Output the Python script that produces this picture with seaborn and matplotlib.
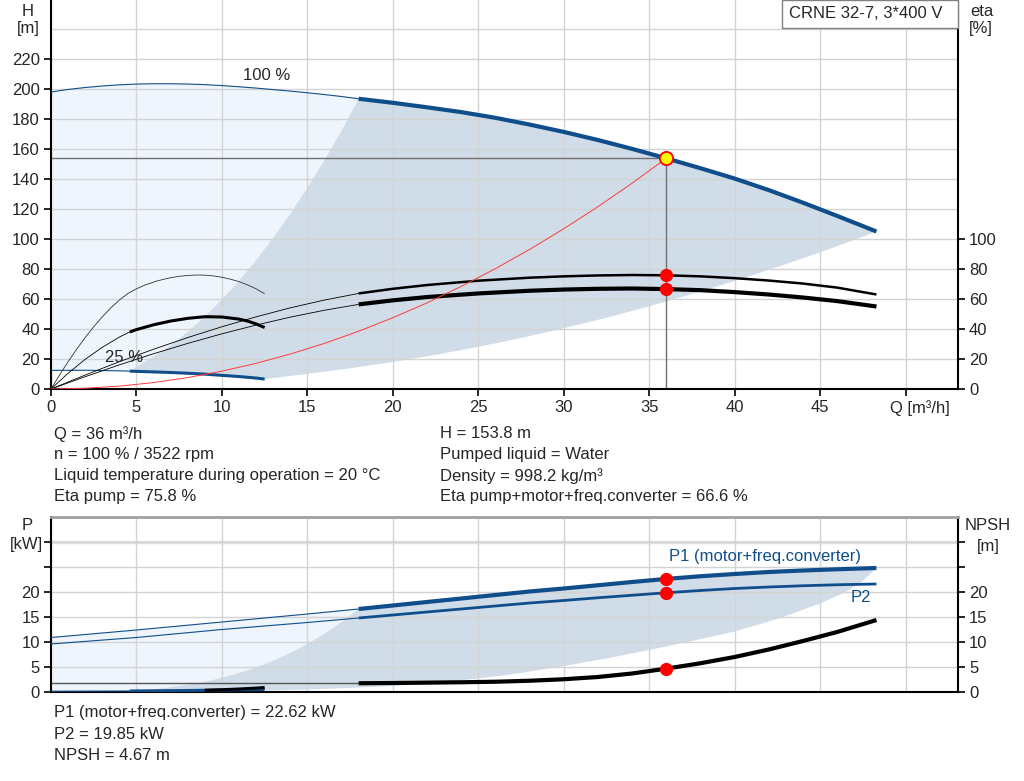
import numpy as np
import matplotlib
matplotlib.use("Agg")
import matplotlib.pyplot as plt
import seaborn as sns
from matplotlib.patches import Rectangle
from matplotlib.ticker import FixedLocator

# ------------------- DATOS ------------------- #

# Curva H a 100 % (parte fina y parte gruesa)
h100_thin_q = [0, 1, 2, 3, 4, 5, 6, 7, 8, 9, 10, 11, 12, 13, 14, 15, 16, 17, 18]
h100_thin_h = [198, 199.7, 201, 202, 202.8, 203.3, 203.5, 203.5, 203.3, 202.9,
               202.3, 201.5, 200.6, 199.6, 198.6, 197.5, 196.3, 195, 193.5]
h100_q = [18, 20, 22, 24, 26, 28, 30, 32, 34, 36, 38, 40, 42, 44, 46, 48.3]
h100_h = [193.5, 190.8, 187.8, 184.6, 180.8, 176.3, 171.4, 166, 160.1, 153.8,
          147.2, 140.3, 132.6, 124.2, 115.4, 105]

# Curva H a 25 %
h25_thin_q = [0, 2, 4, 4.6]
h25_thin_h = [12.4, 12.5, 12.1, 11.9]
h25_q = [4.6, 6, 7, 8, 9, 10, 11, 12, 12.5]
h25_h = [11.9, 11.4, 11, 10.5, 9.9, 9.1, 8.3, 7.3, 6.6]

# Límites de la zona de trabajo (H)
zone_left_q = [4.6, 5, 6, 7, 8, 9, 10, 11, 12, 13, 14, 15, 16, 17, 18]
zone_left_h = [11.9, 14.9, 21.5, 29.2, 38.1, 48.3, 59.6, 72.1, 85.8, 100.7,
               116.8, 134.1, 152.6, 172.2, 193.5]
zone_low_q = [12.5, 15, 17.5, 20, 22.5, 25, 27.5, 30, 32.5, 35, 37.5, 40, 42.5,
              45, 47, 48.3]
zone_low_h = [6.6, 10.1, 13.8, 18, 22.8, 28.1, 34, 40.5, 47.5, 55.1, 63.3, 72,
              81.3, 91.1, 99.4, 105]

# Eficiencias
eta_p_thin_q = [0, 2, 4, 6, 8, 10, 12, 14, 16, 18]
eta_p_thin = [0, 9.3, 18.2, 26.5, 34.3, 41.5, 48.1, 54.1, 59.3, 63.7]
eta_p_q = [18, 20, 22, 25, 28, 30, 32, 34, 36, 38, 40, 42, 44, 46, 48.3]
eta_p = [63.7, 66.8, 69.3, 72.2, 74.2, 75.1, 75.7, 76, 75.8, 75.1, 73.9, 72.3,
         70.3, 67.6, 63]

eta_t_thin_q = [0, 2, 4, 6, 8, 10, 12, 14, 16, 18]
eta_t_thin = [0, 8.2, 16.1, 23.5, 30.4, 36.8, 42.6, 47.9, 52.5, 56.4]
eta_t_q = [18, 20, 22, 25, 28, 30, 32, 34, 36, 38, 40, 42, 44, 46, 48.3]
eta_t = [56.4, 59.1, 61.3, 63.7, 65.5, 66.3, 66.8, 67, 66.6, 65.9, 64.6, 63,
         61, 58.6, 55]

eta_p25_q = [0, 0.5, 1, 1.5, 2, 2.5, 3, 3.5, 4, 4.5, 5, 5.5, 6.25, 7, 7.5, 8,
             8.5, 9, 9.5, 10, 10.5, 11, 11.5, 12, 12.5]
eta_p25 = [0, 9.3, 18.2, 26.5, 34.3, 41.5, 48.1, 54.1, 59.3, 63.7, 66.8, 69.3,
           72.2, 74.2, 75.1, 75.7, 76, 75.9, 75.4, 74.5, 73.2, 71.6, 69.4, 66.8,
           63.5]
eta_t25_thin_q = [0, 1, 2, 3, 4, 4.6]
eta_t25_thin = [0, 10.5, 19.8, 27.8, 34.6, 38]
eta_t25_q = [4.6, 5, 6, 7, 8, 9, 10, 11, 11.5, 12, 12.5]
eta_t25 = [38, 39.6, 42.8, 45.3, 47.1, 48.2, 48, 46.6, 45.3, 43.4, 41]

# Curva del sistema
sys_q = [0, 2, 4, 6, 8, 10, 12, 14, 16, 18, 20, 22, 24, 26, 28, 30, 32, 34, 36]
sys_h = [0, 0.5, 1.9, 4.3, 7.6, 11.9, 17.1, 23.3, 30.4, 38.5, 47.5, 57.4, 68.4,
         80.2, 93, 106.8, 121.5, 137.2, 153.8]

# Punto de trabajo
q_op = 36
h_op = 153.8
eta_p_op = 75.8
eta_t_op = 66.6
p1_op = 22.62
p2_op = 19.85
npsh_op = 4.67

# Potencias y NPSH
p1_thin_q = [0, 5, 10, 15, 18]
p1_thin = [10.9, 12.4, 14.0, 15.6, 16.6]
p1_q = [18, 20, 22, 24, 26, 28, 30, 32, 34, 36, 38, 40, 42, 44, 46, 48.3]
p1 = [16.6, 17.3, 18.0, 18.7, 19.4, 20.1, 20.7, 21.35, 22.0, 22.62, 23.15,
      23.6, 24.0, 24.3, 24.55, 24.8]
p2_thin_q = [0, 5, 10, 15, 18]
p2_thin = [9.6, 10.9, 12.5, 13.9, 14.8]
p2_q = [18, 20, 22, 24, 26, 28, 30, 32, 34, 36, 38, 40, 42, 44, 46, 48.3]
p2 = [14.8, 15.4, 16.0, 16.6, 17.2, 17.8, 18.3, 18.85, 19.35, 19.85, 20.3,
      20.7, 21.0, 21.25, 21.45, 21.6]
npsh_thin_q = [0, 18]
npsh_thin = [1.75, 1.75]
npsh_q = [18, 20, 22, 24, 26, 28, 30, 32, 34, 36, 38, 40, 42, 44, 46, 48.3]
npsh = [1.75, 1.8, 1.87, 1.95, 2.05, 2.25, 2.55, 3.0, 3.7, 4.67, 5.75, 7.0,
        8.5, 10.2, 12.0, 14.4]

p25_thin_q = [0, 4.6]
p25_thin = [0.15, 0.2]
p25_q = [4.6, 8, 10, 12.5]
p25 = [0.2, 0.3, 0.4, 0.5]
npsh25_q = [9, 10, 11, 12, 12.5]
npsh25 = [0.35, 0.45, 0.6, 0.78, 0.9]

pzone_left_q = [4.6, 6, 7, 8, 9, 10, 11, 12, 13, 14, 15, 16, 17, 18]
pzone_left = [0.3, 0.6, 0.95, 1.45, 2.05, 2.85, 3.8, 4.9, 6.25, 7.8, 9.6, 11.65,
              13.95, 16.6]
pzone_low_q = [12.5, 15, 18, 20, 22, 25, 27.5, 30, 32.5, 35, 37.5, 40, 42.5, 45,
               46.5, 47.5, 48.3]
pzone_low = [0.3, 0.5, 0.9, 1.2, 1.7, 2.7, 3.8, 5.2, 6.7, 8.4, 10.2, 12.1, 14.6,
             17.7, 20.0, 22.2, 24.8]
pzone_floor_q = [0]
pzone_floor = [0]

x_ticks = [0, 5, 10, 15, 20, 25, 30, 35, 40, 45]
h_ticks = list(range(0, 221, 20))
eta_ticks = list(range(0, 101, 20))
p_ticks = [0, 5, 10, 15, 20, 25, 30]
p_labels = ["0", "5", "10", "15", "20", "", ""]

info_left = ["Q = 36 m³/h", "n = 100 % / 3522 rpm",
             "Liquid temperature during operation = 20 °C", "Eta pump = 75.8 %"]
info_right = ["H = 153.8 m", "Pumped liquid = Water", "Density = 998.2 kg/m³",
              "Eta pump+motor+freq.converter = 66.6 %"]
info_bottom = ["P1 (motor+freq.converter) = 22.62 kW", "P2 = 19.85 kW", "NPSH = 4.67 m"]

# ------------------- ESTILO ------------------- #

sns.set_theme(style="whitegrid")
plt.rcParams['font.family'] = ['Liberation Sans', 'DejaVu Sans']
plt.rcParams['font.size'] = 12

FS = 12
BLUE = "#104E8B"
LIGHT = "#EEF5FC"
DARK = "#D0DCE7"
GRID = "#D3D3D3"
W, Hpx = 1024, 781

fig = plt.figure(figsize=(10.24, 7.81), dpi=100)


def curve(ax, q, v, color, lw, z=3):
    sns.lineplot(x=q, y=v, ax=ax, color=color, linewidth=lw, sort=False,
                 estimator=None, zorder=z, solid_capstyle="butt")


def style_axes(ax, ylim, top_color=None):
    ax.set_xlim(0, 907 / 17.09)
    ax.set_ylim(*ylim)
    ax.set_axisbelow("line")
    ax.grid(True, color=GRID, linewidth=1)
    for side in ["left", "bottom", "right"]:
        ax.spines[side].set_visible(True)
        ax.spines[side].set_color("black")
        ax.spines[side].set_linewidth(1.5)
    if top_color:
        ax.spines["top"].set_color(top_color)
        ax.spines["top"].set_linewidth(2)
    else:
        ax.spines["top"].set_visible(False)
    ax.set_xlabel("")
    ax.set_ylabel("")


# ------------------- PANEL SUPERIOR: H / eta ------------------- #

ax = fig.add_axes([51 / W, 392 / Hpx, 907 / W, 389 / Hpx])
style_axes(ax, (0, 389 / 1.5))
ax.set_xticks(np.arange(0, 51, 5))
ax.set_xticklabels([str(t) for t in x_ticks] + [""])
ax.set_yticks(h_ticks)
ax.yaxis.set_minor_locator(FixedLocator([240]))
ax.grid(True, which="minor", axis="y", color=GRID, linewidth=1)
ax.tick_params(axis="both", which="major", left=True, bottom=True, length=5,
               width=1.2, color="black", labelsize=FS, pad=3)
ax.tick_params(axis="y", which="minor", length=0)

light_q = np.concatenate([h100_thin_q, zone_left_q[::-1], h25_thin_q[::-1]])
light_h = np.concatenate([h100_thin_h, zone_left_h[::-1], h25_thin_h[::-1]])
ax.fill(light_q, light_h, color=LIGHT, lw=0, zorder=1)
dark_q = np.concatenate([zone_left_q, h100_q, zone_low_q[::-1], h25_q[::-1]])
dark_h = np.concatenate([zone_left_h, h100_h, zone_low_h[::-1], h25_h[::-1]])
ax.fill(dark_q, dark_h, color=DARK, lw=0, zorder=1)

curve(ax, h100_thin_q, h100_thin_h, BLUE, 0.8)
curve(ax, h100_q, h100_h, BLUE, 3)
curve(ax, h25_thin_q, h25_thin_h, BLUE, 0.8)
curve(ax, h25_q, h25_h, BLUE, 2.2)

curve(ax, eta_p_thin_q, eta_p_thin, "black", 0.6)
curve(ax, eta_p_q, eta_p, "black", 1.8)
curve(ax, eta_t_thin_q, eta_t_thin, "black", 0.6)
curve(ax, eta_t_q, eta_t, "black", 3)
curve(ax, eta_p25_q, eta_p25, "#333333", 0.6)
curve(ax, eta_t25_thin_q, eta_t25_thin, "black", 0.6)
curve(ax, eta_t25_q, eta_t25, "black", 2.2)

curve(ax, sys_q, sys_h, "#FF3B3B", 0.7, z=4)

ax.plot([0, q_op], [h_op, h_op], color="#707070", lw=1, zorder=2.5)
ax.plot([q_op, q_op], [0, h_op], color="#707070", lw=1, zorder=2.5)
ax.plot([q_op], [h_op], marker="o", ms=9.5, mfc="#FFFF00", mec="#FF0000",
        mew=1.3, zorder=6)
ax.plot([q_op, q_op], [eta_p_op, eta_t_op], ls="none", marker="o", ms=8.5,
        mfc="#FF0000", mec="#FF0000", zorder=6)

ax.text(12.6, 209, "100 %", ha="center", va="center", fontsize=FS)
ax.text(4.3, 20.7, "25 %", ha="center", va="center", fontsize=FS)

ax_eta = ax.twinx()
ax_eta.set_ylim(ax.get_ylim())
ax_eta.set_yticks(eta_ticks)
ax_eta.grid(False)
for side in ax_eta.spines:
    ax_eta.spines[side].set_visible(False)
ax_eta.tick_params(axis="y", right=True, length=5, width=1.2, color="black",
                   labelsize=FS, pad=3)

# ------------------- PANEL INFERIOR: P / NPSH ------------------- #

bx = fig.add_axes([51 / W, 89 / Hpx, 907 / W, 175 / Hpx])
style_axes(bx, (0, 35), top_color="#A0A0A0")
bx.set_xticks(np.arange(0, 51, 5))
bx.set_xticklabels([])
bx.set_yticks(p_ticks)
bx.set_yticklabels(p_labels)
bx.tick_params(axis="y", left=True, length=5, width=1.2, color="black",
               labelsize=FS, pad=3)
bx.tick_params(axis="x", bottom=False, length=0)
bx.axhline(30, color="#E2E2E2", lw=2.5, zorder=1.4)

plight_q = np.concatenate([p1_thin_q, pzone_left_q[::-1], pzone_floor_q])
plight_p = np.concatenate([p1_thin, pzone_left[::-1], pzone_floor])
bx.fill(plight_q, plight_p, color=LIGHT, lw=0, zorder=1)
pdark_q = np.concatenate([pzone_left_q, p1_q, pzone_low_q[::-1]])
pdark_p = np.concatenate([pzone_left, p1, pzone_low[::-1]])
bx.fill(pdark_q, pdark_p, color=DARK, lw=0, zorder=1)

curve(bx, p1_thin_q, p1_thin, BLUE, 0.8)
curve(bx, p1_q, p1, BLUE, 3)
curve(bx, p2_thin_q, p2_thin, BLUE, 0.8)
curve(bx, p2_q, p2, BLUE, 2)
curve(bx, npsh_thin_q, npsh_thin, "#555555", 1)
curve(bx, npsh_q, npsh, "black", 3)
curve(bx, p25_thin_q, p25_thin, BLUE, 0.8)
curve(bx, p25_q, p25, BLUE, 2.2)
curve(bx, npsh25_q, npsh25, "black", 2.2)

bx.plot([q_op, q_op, q_op], [p1_op, p2_op, npsh_op], ls="none", marker="o",
        ms=8.5, mfc="#FF0000", mec="#FF0000", zorder=6)

bx.text(41.8, 27.1, "P1 (motor+freq.converter)", color=BLUE, ha="center",
        va="center", fontsize=FS)
bx.text(47.4, 18.8, "P2", color=BLUE, ha="center", va="center", fontsize=FS)

bx_r = bx.twinx()
bx_r.set_ylim(0, 35)
bx_r.set_yticks(p_ticks)
bx_r.set_yticklabels(p_labels)
bx_r.grid(False)
for side in bx_r.spines:
    bx_r.spines[side].set_visible(False)
bx_r.tick_params(axis="y", right=True, length=5, width=1.2, color="black",
                 labelsize=FS, pad=3)

# ------------------- TEXTOS ------------------- #


def ftext(x, y, s, **kw):
    fig.text(x / W, 1 - y / Hpx, s, fontsize=FS, **kw)


ftext(28, 11, "H", ha="center", va="center")
ftext(28, 29, "[m]", ha="center", va="center")
ftext(982, 11, "eta", ha="center", va="center")
ftext(981, 29, "[%]", ha="center", va="center")
ftext(920, 408, "Q [m³/h]", ha="center", va="center")
ftext(27, 525, "P", ha="center", va="center")
ftext(26, 545, "[kW]", ha="center", va="center")
ftext(988, 526, "NPSH", ha="center", va="center")
ftext(988, 546, "[m]", ha="center", va="center")

for i, s in enumerate(info_left):
    ftext(54, 434 + 21 * i, s, ha="left", va="center")
for i, s in enumerate(info_right):
    ftext(440, 434 + 21 * i, s, ha="left", va="center")
for i, s in enumerate(info_bottom):
    ftext(54, 713 + 21.5 * i, s, ha="left", va="center")

fig.add_artist(Rectangle((782 / W, 1 - 28 / Hpx), 176 / W, 28 / Hpx,
                         transform=fig.transFigure, facecolor="white",
                         edgecolor="#808080", lw=1, zorder=5))
ftext(789, 14, "CRNE 32-7, 3*400 V", ha="left", va="center", zorder=6)

fig.savefig("out.png", dpi=100)
plt.close(fig)
